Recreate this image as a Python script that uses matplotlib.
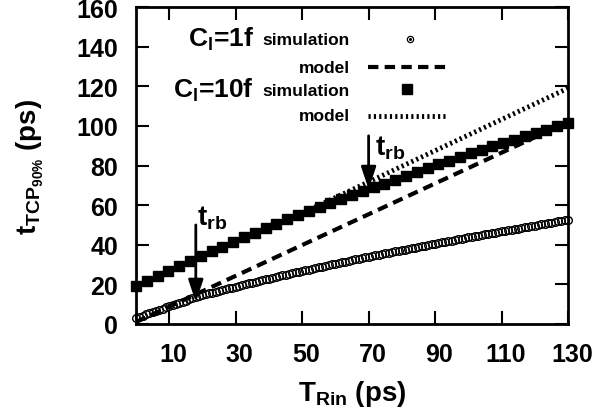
import matplotlib
matplotlib.use('Agg')
import matplotlib.pyplot as plt
import matplotlib.transforms as mtransforms
import numpy as np

plt.rcParams['font.family'] = 'Liberation Sans'
plt.rcParams['font.weight'] = 'bold'
plt.rcParams['mathtext.fontset'] = 'custom'
plt.rcParams['mathtext.rm'] = 'Liberation Sans:bold'
plt.rcParams['mathtext.it'] = 'Liberation Sans:bold'
plt.rcParams['mathtext.bf'] = 'Liberation Sans:bold'
plt.rcParams['mathtext.default'] = 'rm'

# C_l = 1f simulation (open circles), one point per ps
trin_1f = np.arange(0, 131, 1)
t90_1f = [3.0, 3.6, 4.2, 4.8, 5.4, 6.0, 6.6, 7.2, 7.8, 8.4,
          9.0, 9.6, 10.2, 10.7, 11.3, 11.8, 12.4, 12.9, 13.5, 14.0,
          14.5, 14.9, 15.4, 15.8, 16.3, 16.7, 17.2, 17.6, 18.0, 18.4,
          18.9, 19.3, 19.7, 20.1, 20.5, 20.9, 21.3, 21.7, 22.1, 22.5,
          22.9, 23.3, 23.7, 24.1, 24.5, 24.9, 25.3, 25.6, 26.0, 26.4,
          26.8, 27.1, 27.5, 27.9, 28.3, 28.6, 29.0, 29.4, 29.8, 30.1,
          30.5, 30.8, 31.2, 31.5, 31.9, 32.2, 32.6, 32.9, 33.3, 33.6,
          34.0, 34.3, 34.7, 35.0, 35.3, 35.6, 36.0, 36.3, 36.6, 36.9,
          37.3, 37.6, 37.9, 38.2, 38.6, 38.9, 39.2, 39.5, 39.9, 40.2,
          40.5, 40.8, 41.2, 41.5, 41.8, 42.1, 42.4, 42.7, 43.0, 43.3,
          43.7, 44.0, 44.3, 44.6, 44.9, 45.2, 45.5, 45.8, 46.1, 46.4,
          46.7, 47.0, 47.3, 47.6, 47.9, 48.2, 48.5, 48.8, 49.1, 49.4,
          49.7, 50.0, 50.3, 50.6, 50.9, 51.2, 51.5, 51.8, 52.1, 52.4,
          52.7]

# C_l = 10f simulation (filled squares)
trin_10f = [0, 3.25, 6.5, 9.75, 13, 16.25, 19.5, 22.75, 26, 29.25,
            32.5, 35.75, 39, 42.25, 45.5, 48.75, 52, 55.25, 58.5, 61.75,
            65, 68.25, 71.5, 74.75, 78, 81.25, 84.5, 87.75, 91, 94.25,
            97.5, 100.75, 104, 107.25, 110.5, 113.75, 117, 120.25, 123.5, 126.75, 130]
t90_10f = [19.0, 21.6, 24.1, 26.7, 29.2, 31.7, 34.1, 36.6, 39.0, 41.4,
           43.8, 46.1, 48.4, 50.6, 52.8, 54.9, 56.9, 58.9, 60.9, 62.9,
           64.9, 66.9, 68.9, 70.9, 72.9, 74.9, 76.8, 78.7, 80.6, 82.5,
           84.3, 86.1, 87.9, 89.6, 91.3, 93.0, 94.7, 96.4, 98.1, 99.8, 101.5]

# models
model_1f_x = [0, 130]
model_1f_y = [1, 102]
model_10f_x = [45, 130]
model_10f_y = [52, 119]

# t_rb arrows: x, tail y, head y
trb_x = [18, 70]
trb_top = [50, 95]
trb_tip = [11, 68]

fig = plt.figure(figsize=(5.95, 4.14), dpi=100)
ax = fig.add_axes([136 / 595, 1 - 325 / 414, 432 / 595, 317 / 414])

ax.plot(model_1f_x, model_1f_y, color='black', lw=3, dashes=(2.5, 1.5),
        solid_capstyle='butt', dash_capstyle='butt', zorder=2)
ax.plot(model_10f_x, model_10f_y, color='black', lw=3.5, dashes=(0.45, 0.65),
        dash_capstyle='butt', zorder=2)
ax.plot(trin_1f, t90_1f, linestyle='none', marker='o', markersize=5.5,
        markerfacecolor='none', markeredgecolor='black', markeredgewidth=1.0,
        clip_on=False, zorder=3)
ax.plot(trin_10f, t90_10f, linestyle='none', marker='s', markersize=6.5,
        color='black', clip_on=False, zorder=3)

for x, y0, y1 in zip(trb_x, trb_top, trb_tip):
    ax.annotate('', xy=(x, y1), xytext=(x, y0),
                arrowprops=dict(arrowstyle='-|>,head_length=0.9,head_width=0.3',
                                lw=2, color='black', mutation_scale=15,
                                shrinkA=0, shrinkB=0), zorder=4)
ax.text(18.5, 54, r'$t_{rb}$', fontsize=20, ha='left', va='center')
ax.text(72.0, 89, r'$t_{rb}$', fontsize=20, ha='left', va='center')

# legend drawn by hand
rows = [143.9, 129.7, 118.6, 105]
ax.text(35.5, rows[0], r'$C_l$=1f', fontsize=19, ha='right', va='center')
ax.text(64.4, rows[0] - 0.5, 'simulation', fontsize=12.5, ha='right', va='center')
ax.text(64.4, rows[1], 'model', fontsize=12.5, ha='right', va='center')
ax.text(35.5, rows[2], r'$C_l$=10f', fontsize=19, ha='right', va='center')
ax.text(64.4, rows[2] - 0.5, 'simulation', fontsize=12.5, ha='right', va='center')
ax.text(64.4, rows[3], 'model', fontsize=12.5, ha='right', va='center')
ax.plot([82.5], [rows[0]], marker='o', markersize=4.5, markerfacecolor='white',
        markeredgecolor='black', markeredgewidth=0.9)
ax.plot([82.5], [rows[0]], marker='o', markersize=1.2, color='black')
ax.plot([69.8, 93.3], [rows[1]] * 2, color='black', lw=3, dashes=(2.5, 1.5),
        dash_capstyle='butt')
ax.plot([81.5], [rows[2]], marker='s', markersize=6.5, color='black')
ax.plot([69.8, 93.8], [rows[3]] * 2, color='black', lw=3.5, dashes=(0.45, 0.65),
        dash_capstyle='butt')

ax.set_xlim(0, 130)
ax.set_ylim(0, 160)
ax.set_xticks([10, 30, 50, 70, 90, 110, 130])
ax.set_yticks([0, 20, 40, 60, 80, 100, 120, 140, 160])
ax.tick_params(direction='in', length=9.5, width=1.5, labelsize=18,
               top=True, right=True, pad=13)
for lab in ax.get_xticklabels():
    lab.set_transform(lab.get_transform() +
                      mtransforms.ScaledTranslation(0.04, 0, fig.dpi_scale_trans))
for s in ax.spines.values():
    s.set_linewidth(2)

fig.text(30 / 595, 1 - 167 / 414, r'$t_{TCP_{90\%}}$ (ps)', fontsize=20,
         rotation=90, ha='center', va='center')
fig.text(352 / 595, 1 - 394 / 414, r'$T_{Rin}$ (ps)', fontsize=20,
         ha='center', va='center')

fig.savefig('out.png', dpi=100)
